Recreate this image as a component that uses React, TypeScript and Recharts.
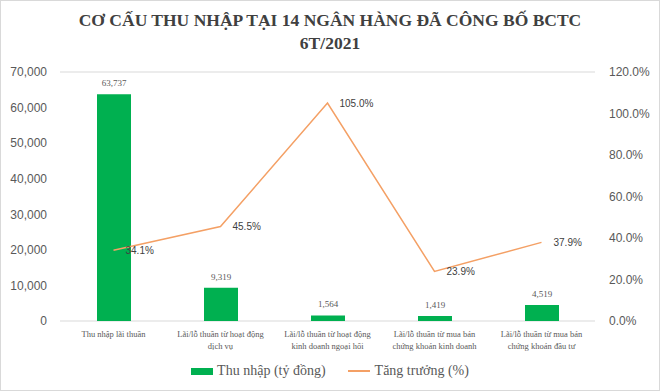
import React from 'react';
import { ComposedChart, Bar, Line, XAxis, YAxis, CartesianGrid, LabelList, Legend } from 'recharts';

const categories = [
  'Thu nhập lãi thuần',
  'Lãi/lỗ thuần từ hoạt động dịch vụ',
  'Lãi/lỗ thuần từ hoạt động kinh doanh ngoại hối',
  'Lãi/lỗ thuần từ mua bán chứng khoán kinh doanh',
  'Lãi/lỗ thuần từ mua bán chứng khoán đầu tư',
];
const categoryLines: string[][] = [
  ['Thu nhập lãi thuần'],
  ['Lãi/lỗ thuần từ hoạt động', 'dịch vụ'],
  ['Lãi/lỗ thuần từ hoạt động', 'kinh doanh ngoại hối'],
  ['Lãi/lỗ thuần từ mua bán', 'chứng khoán kinh doanh'],
  ['Lãi/lỗ thuần từ mua bán', 'chứng khoán đầu tư'],
];
const income = [63737, 9319, 1564, 1419, 4519];
const growth = [34.1, 45.5, 105.0, 23.9, 37.9];
const leftTicks = [0, 10000, 20000, 30000, 40000, 50000, 60000, 70000];
const rightTicks = [0, 20, 40, 60, 80, 100, 120];
const titleLines = ['CƠ CẤU THU NHẬP TẠI 14 NGÂN HÀNG ĐÃ CÔNG BỐ BCTC', '6T/2021'];
const seriesNames = ['Thu nhập (tỷ đồng)', 'Tăng trưởng (%)'];

const data = categories.map((c, i) => ({ name: c, income: income[i], growth: growth[i] }));

const GREEN = '#00B050';
const ORANGE = '#F4A065';
const GRAY = '#595959';

const CategoryTick = (props: any) => {
  const { x, y, index } = props;
  const lines = categoryLines[index] || [];
  return (
    <text x={x} y={y} textAnchor="middle" fill={GRAY} fontFamily="'Liberation Serif', serif" fontSize={8.5}>
      {lines.map((l, i) => (
        <tspan key={i} x={x} dy={i === 0 ? 8 : 12}>{l}</tspan>
      ))}
    </text>
  );
};

const LegendContent = () => (
  <div style={{ height: 30, display: 'flex', justifyContent: 'center', alignItems: 'flex-start', boxSizing: 'border-box', fontFamily: "'Liberation Serif', serif", fontSize: 14, color: GRAY }}>
    <div style={{ display: 'flex', alignItems: 'center', marginRight: 22, height: 20 }}>
      <span style={{ display: 'inline-block', width: 22, height: 7, background: GREEN, marginRight: 4 }} />
      <span style={{ fontFamily: "'Liberation Serif', serif" }}>{seriesNames[0]}</span>
    </div>
    <div style={{ display: 'flex', alignItems: 'center', height: 20 }}>
      <span style={{ display: 'inline-block', width: 22, height: 2, background: ORANGE, marginRight: 5 }} />
      <span style={{ fontFamily: "'Liberation Serif', serif" }}>{seriesNames[1]}</span>
    </div>
  </div>
);

export default function App() {
  return (
    <div style={{ position: 'fixed', left: 0, top: 0, width: 660, height: 391, background: '#fff', border: '1px solid #D9D9D9', boxSizing: 'border-box' }}>
      <div style={{ position: 'absolute', left: 0, top: 8, width: 658, textAlign: 'center', fontFamily: "'Liberation Serif', serif", fontWeight: 'bold', fontSize: 17.5, lineHeight: '23px', color: '#404040' }}>
        {titleLines.map((t, i) => <div key={i}>{t}</div>)}
      </div>
      <div style={{ position: 'absolute', left: -1, top: -1 }}>
        <ComposedChart width={660} height={391} data={data} margin={{ top: 72, right: 0, bottom: 0, left: 0 }} barCategoryGap={36}>
          <CartesianGrid vertical={false} stroke="#D9D9D9" />
          <XAxis dataKey="name" height={40} tickLine={false} axisLine={false} interval={0} tick={<CategoryTick />} />
          <YAxis yAxisId="left" width={60} domain={[0, 70000]} ticks={leftTicks} tickLine={false} axisLine={false} tickSize={0} tickMargin={13}
            tick={{ fill: GRAY, fontSize: 12, fontFamily: "'Liberation Sans', sans-serif" }}
            tickFormatter={(v: number) => v.toLocaleString('en-US')} />
          <YAxis yAxisId="right" orientation="right" width={65} domain={[0, 120]} ticks={rightTicks} tickLine={false} axisLine={false} tickSize={0} tickMargin={14}
            tick={{ fill: GRAY, fontSize: 12, fontFamily: "'Liberation Sans', sans-serif" }}
            tickFormatter={(v: number) => `${v.toFixed(1)}%`} />
          <Legend verticalAlign="bottom" content={<LegendContent />} />
          <Bar yAxisId="left" dataKey="income" name={seriesNames[0]} fill={GREEN} barSize={34} isAnimationActive={false}>
            <LabelList dataKey="income" position="top" offset={8} fill="#595959" fontSize={9} fontFamily="'Liberation Serif', serif"
              formatter={(v: any) => Number(v).toLocaleString('en-US')} />
          </Bar>
          <Line yAxisId="right" dataKey="growth" name={seriesNames[1]} stroke={ORANGE} strokeWidth={1.5} dot={false} activeDot={false} isAnimationActive={false}>
            <LabelList dataKey="growth" position="right" offset={12} fill="#404040" fontSize={10} fontFamily="'Liberation Sans', sans-serif"
              formatter={(v: any) => `${Number(v).toFixed(1)}%`} />
          </Line>
        </ComposedChart>
      </div>
    </div>
  );
}
